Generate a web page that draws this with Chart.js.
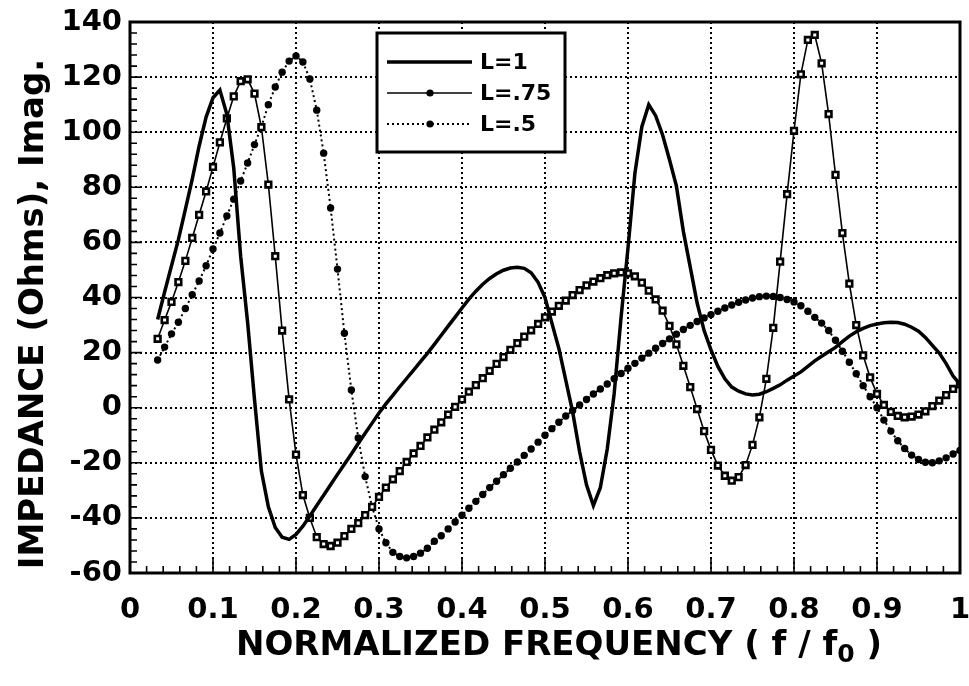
<!DOCTYPE html>
<html>
<head>
<meta charset="utf-8">
<title>Impedance vs normalized frequency</title>
<script src="https://cdn.jsdelivr.net/npm/chart.js@4.4.1/dist/chart.umd.min.js"></script>
<style>
  html, body { margin: 0; padding: 0; background: #fff; }
  #wrap { width: 969px; height: 686px; }
</style>
</head>
<body>
<div id="wrap"><canvas id="impChart" width="969" height="686"></canvas></div>
<script>
// sample frequencies, f / f0
const freq = [
  0.0333, 0.0417, 0.05, 0.0583, 0.0667, 0.075, 0.0833, 0.0917, 0.1, 0.1083, 0.1167, 0.125,
  0.1333, 0.1417, 0.15, 0.1583, 0.1667, 0.175, 0.1833, 0.1917, 0.2, 0.2083, 0.2167, 0.225,
  0.2333, 0.2417, 0.25, 0.2583, 0.2667, 0.275, 0.2833, 0.2917, 0.3, 0.3083, 0.3167, 0.325,
  0.3333, 0.3417, 0.35, 0.3583, 0.3667, 0.375, 0.3833, 0.3917, 0.4, 0.4083, 0.4167, 0.425,
  0.4333, 0.4417, 0.45, 0.4583, 0.4667, 0.475, 0.4833, 0.4917, 0.5, 0.5083, 0.5167, 0.525,
  0.5333, 0.5417, 0.55, 0.5583, 0.5667, 0.575, 0.5833, 0.5917, 0.6, 0.6083, 0.6167, 0.625,
  0.6333, 0.6417, 0.65, 0.6583, 0.6667, 0.675, 0.6833, 0.6917, 0.7, 0.7083, 0.7167, 0.725,
  0.7333, 0.7417, 0.75, 0.7583, 0.7667, 0.775, 0.7833, 0.7917, 0.8, 0.8083, 0.8167, 0.825,
  0.8333, 0.8417, 0.85, 0.8583, 0.8667, 0.875, 0.8833, 0.8917, 0.9, 0.9083, 0.9167, 0.925,
  0.9333, 0.9417, 0.95, 0.9583, 0.9667, 0.975, 0.9833, 0.9917, 1
];

// imaginary impedance (Ohms) for each line length
const impL1 = [
  32, 42, 51.5, 61, 72, 83, 95, 105.5, 112.5, 115.3, 106.5, 87,
  55, 31, 3, -23, -36, -43.5, -47, -47.8, -46, -43, -39.3, -35.5,
  -31.8, -28, -24.2, -20.5, -16.8, -13, -9.3, -5.6, -1.9, 1.4, 4.5, 7.6,
  10.6, 13.6, 16.7, 19.7, 23, 26.3, 29.6, 32.9, 36.2, 39.4, 42.3, 44.8,
  46.9, 48.6, 49.9, 50.7, 51, 50.6, 49, 45.5, 40, 30.7, 21.5, 10,
  -1.5, -16, -28, -35.5, -29, -15, 5, 33, 58, 85, 102, 110,
  106, 99, 90, 80.5, 64, 51, 38, 28, 21, 15, 10.5, 7.5,
  6, 5, 4.6, 4.9, 5.8, 7, 8.3, 10, 11.5, 13, 15, 17,
  18.7, 20.3, 21.9, 24, 26, 27.6, 28.8, 29.8, 30.4, 30.8, 31, 30.9,
  30.3, 29.2, 27.8, 25.5, 22.6, 19.8, 16, 11.5, 8.5
];
const impL075 = [
  25, 31.8, 38.4, 45.6, 53.3, 61.6, 70, 78.5, 87.4, 96.3, 105, 113,
  118.5, 119.2, 114, 101.8, 81, 55, 28, 3, -17, -31.7, -40, -47,
  -49.5, -50.2, -49, -46.6, -44, -41.9, -39, -36, -32.4, -29, -26, -23,
  -19.7, -16.6, -13.9, -10.8, -8, -5.3, -2.5, 0.3, 3, 5.8, 8.2, 10.7,
  13.4, 15.9, 18.4, 21, 23.4, 25.8, 28.1, 30.4, 32.8, 34.9, 37, 38.9,
  40.9, 42.7, 44.4, 45.8, 47, 48.1, 48.8, 49.1, 48.8, 47.7, 45.4, 42.5,
  39.3, 35.2, 29.7, 23, 15.2, 7.5, -0.5, -8.5, -15.3, -21, -24.7, -26.5,
  -25.2, -20.8, -13.5, -3.5, 10.5, 29, 53, 77.5, 100.5, 121, 133.5, 135.3,
  125, 106.6, 84.5, 63.4, 45, 30, 19, 11, 5, 1, -1.5, -3,
  -3.5, -3.2, -2.5, -1.3, 0.6, 2.6, 4.6, 6.8, 8.5
];
const impL050 = [
  17.3, 22, 26.8, 31, 36, 41, 46, 51.5, 57.6, 63.4, 69.6, 75.7,
  82.3, 88.8, 95.5, 102, 110, 116.4, 121.8, 125.8, 127.7, 125.5, 119.3, 108,
  92.4, 72.5, 50.3, 27, 6.4, -11, -25, -36, -44, -49, -52.5, -54,
  -54.5, -54, -52.8, -51, -48.5, -46.5, -44, -41.5, -39, -36.5, -34, -31.5,
  -29, -26.7, -24.3, -22, -19.7, -17.3, -15, -12.5, -10, -7.6, -5.3, -3,
  -1, 1, 3, 5, 6.8, 8.6, 10.5, 12.4, 14.3, 16.1, 18, 19.8,
  21.6, 23.3, 25, 26.7, 28.4, 29.9, 31.3, 32.6, 33.8, 35, 36.2, 37.3,
  38.3, 39.1, 39.8, 40.3, 40.5, 40.4, 40, 39.3, 38.4, 37, 35, 32.8,
  30.7, 28, 24.5, 20.5, 16.5, 12.3, 8, 4, 0, -4.5, -8.5, -12,
  -14.8, -17.2, -18.8, -19.8, -20, -19.3, -18.2, -16.8, -15.5
];

const seriesNames = ['L=1', 'L=.75', 'L=.5'];
const xTickValues = [0, 0.1, 0.2, 0.3, 0.4, 0.5, 0.6, 0.7, 0.8, 0.9, 1];
const xTickLabels = ['0', '0.1', '0.2', '0.3', '0.4', '0.5', '0.6', '0.7', '0.8', '0.9', '1'];
const yTickValues = [-60, -40, -20, 0, 20, 40, 60, 80, 100, 120, 140];
const yTickLabels = ['-60', '-40', '-20', '0', '20', '40', '60', '80', '100', '120', '140'];
const xTitle = 'NORMALIZED FREQUENCY ( f / f';
const xTitleSub = '0';
const xTitleEnd = ' )';
const yTitle = 'IMPEDANCE (Ohms), Imag.';

const FONT = "'DejaVu Sans', 'Liberation Sans', sans-serif";
Chart.defaults.font.family = FONT;
Chart.defaults.font.weight = 'bold';
Chart.defaults.color = '#000';

function toPoints(vals) {
  return freq.map((f, i) => ({ x: f, y: vals[i] }));
}

// frame, inward minor ticks and the two axis titles
const framePlugin = {
  id: 'frame',
  afterDraw(chart) {
    const { ctx, chartArea: a, scales: { x, y } } = chart;
    ctx.save();
    ctx.strokeStyle = '#000';
    ctx.lineWidth = 1.6;
    ctx.beginPath();
    for (let i = 1; i < 50; i++) {
      const px = x.getPixelForValue(i * 0.02);
      const len = i % 5 === 0 ? 16 : 7;
      ctx.moveTo(px, a.bottom);
      ctx.lineTo(px, a.bottom - len);
    }
    for (let i = 1; i < 50; i++) {
      const py = y.getPixelForValue(-60 + i * 4);
      const len = i % 5 === 0 ? 12 : 7;
      ctx.moveTo(a.left, py);
      ctx.lineTo(a.left + len, py);
    }
    ctx.stroke();

    ctx.lineWidth = 3;
    ctx.strokeRect(a.left, a.top, a.right - a.left, a.bottom - a.top);

    // x title with subscript 0
    ctx.fillStyle = '#000';
    ctx.textBaseline = 'alphabetic';
    ctx.textAlign = 'left';
    const big = 'bold 34px ' + FONT;
    const small = 'bold 25px ' + FONT;
    ctx.font = big;
    const w1 = ctx.measureText(xTitle).width;
    const w3 = ctx.measureText(xTitleEnd).width;
    ctx.font = small;
    const w2 = ctx.measureText(xTitleSub).width;
    let tx = 559 - (w1 + w2 + w3) / 2;
    const base = 655;
    ctx.font = big;
    ctx.fillText(xTitle, tx, base);
    tx += w1;
    ctx.font = small;
    ctx.fillText(xTitleSub, tx, base + 7);
    tx += w2;
    ctx.font = big;
    ctx.fillText(xTitleEnd, tx, base);

    // y title, rotated
    ctx.translate(43, 314);
    ctx.rotate(-Math.PI / 2);
    ctx.textAlign = 'center';
    ctx.font = 'bold 34px ' + FONT;
    ctx.fillText(yTitle, 0, 0);
    ctx.restore();
  }
};

// boxed legend inside the plot
const legendPlugin = {
  id: 'boxLegend',
  afterDraw(chart) {
    const { ctx } = chart;
    const bx = 377, by = 33, bw = 188, bh = 119;
    ctx.save();
    ctx.fillStyle = '#fff';
    ctx.fillRect(bx, by, bw, bh);
    ctx.lineWidth = 3;
    ctx.strokeStyle = '#000';
    ctx.strokeRect(bx, by, bw, bh);
    chart.data.datasets.forEach((ds, i) => {
      const ly = by + 29 + i * 31;
      ctx.strokeStyle = ds.borderColor;
      ctx.lineWidth = ds.borderWidth;
      ctx.setLineDash(ds.borderDash || []);
      ctx.beginPath();
      ctx.moveTo(bx + 10, ly);
      ctx.lineTo(bx + 95, ly);
      ctx.stroke();
      ctx.setLineDash([]);
      if (ds.pointRadius > 0) {
        ctx.fillStyle = ds.pointBorderColor;
        ctx.lineWidth = ds.pointBorderWidth;
        Chart.helpers.drawPoint(ctx, {
          pointStyle: 'circle',
          radius: 3.6,
          borderWidth: 0,
          rotation: 0
        }, bx + 53, ly);
      }
      ctx.fillStyle = '#000';
      ctx.font = 'bold 22px ' + FONT;
      ctx.textAlign = 'left';
      ctx.textBaseline = 'middle';
      ctx.fillText(ds.label, bx + 103, ly + 1);
    });
    ctx.restore();
  }
};

new Chart(document.getElementById('impChart'), {
  type: 'line',
  data: {
    datasets: [
      {
        label: seriesNames[0],
        data: toPoints(impL1),
        borderColor: '#000',
        borderWidth: 3.5,
        pointRadius: 0,
        tension: 0
      },
      {
        label: seriesNames[1],
        data: toPoints(impL075),
        borderColor: '#000',
        borderWidth: 1.6,
        pointStyle: 'rect',
        pointRadius: 4,
        pointBorderWidth: 2.6,
        pointBackgroundColor: '#fff',
        pointBorderColor: '#000',
        tension: 0
      },
      {
        label: seriesNames[2],
        data: toPoints(impL050),
        borderColor: '#000',
        borderWidth: 2,
        borderDash: [2, 3],
        pointStyle: 'circle',
        pointRadius: 3.7,
        pointBorderWidth: 0,
        pointBackgroundColor: '#000',
        pointBorderColor: '#000',
        tension: 0
      }
    ]
  },
  options: {
    responsive: false,
    animation: false,
    devicePixelRatio: 1,
    layout: { padding: { top: 22, right: 9, left: 0, bottom: 0 } },
    plugins: {
      legend: { display: false },
      tooltip: { enabled: false }
    },
    scales: {
      x: {
        type: 'linear',
        min: 0,
        max: 1,
        afterFit(scale) {
          scale.height = 113;
          scale.paddingLeft = 0;
          scale.paddingRight = 0;
        },
        afterBuildTicks(scale) { scale.ticks = xTickValues.map(v => ({ value: v })); },
        ticks: {
          callback: (v, i) => xTickLabels[i],
          font: { size: 29, weight: 'bold' },
          color: '#000',
          padding: 20,
          maxRotation: 0,
          autoSkip: false
        },
        grid: { color: '#000', lineWidth: 2, drawTicks: false },
        border: { display: false, dash: [2, 3] }
      },
      y: {
        type: 'linear',
        min: -60,
        max: 140,
        afterFit(scale) {
          scale.width = 130;
          scale.paddingTop = 0;
          scale.paddingBottom = 0;
        },
        afterBuildTicks(scale) { scale.ticks = yTickValues.map(v => ({ value: v })); },
        ticks: {
          callback: (v, i) => yTickLabels[i],
          font: { size: 29, weight: 'bold' },
          color: '#000',
          padding: 8
        },
        grid: { color: '#000', lineWidth: 2, drawTicks: false },
        border: { display: false, dash: [2, 3] }
      }
    }
  },
  plugins: [framePlugin, legendPlugin]
});
</script>
</body>
</html>
